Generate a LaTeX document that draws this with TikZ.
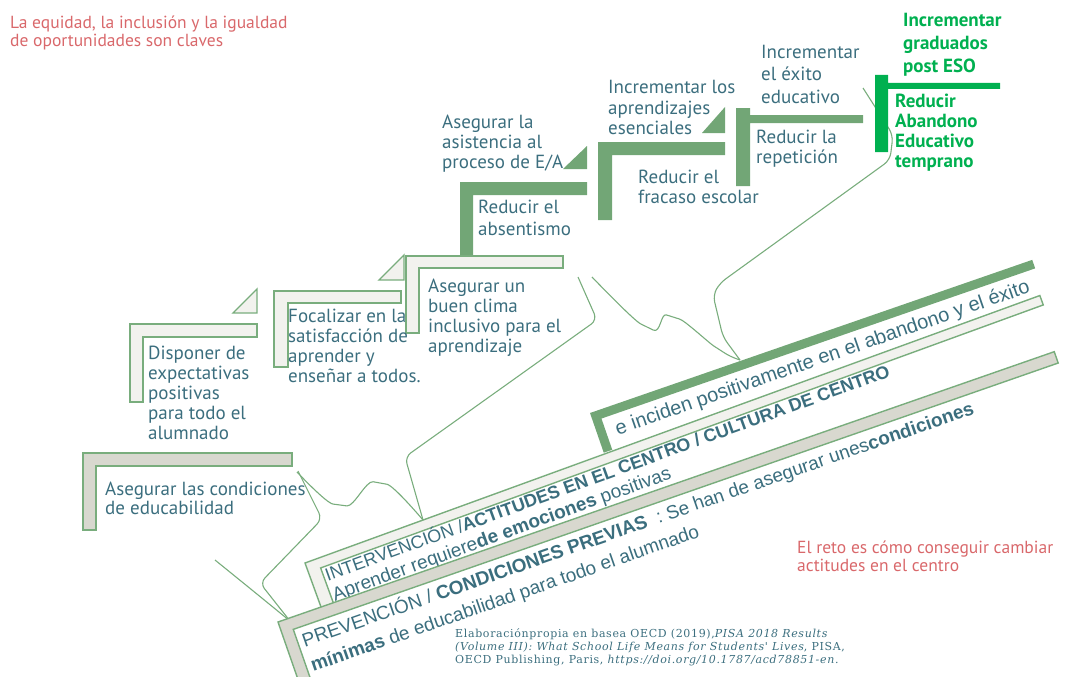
\documentclass[tikz,border=0pt]{standalone}
\usepackage{fontspec}
\setmainfont{PT Sans}
\newfontfamily\bandfont{Liberation Sans}
\newfontfamily\citefont[LetterSpace=6]{DejaVu Serif}
\usetikzlibrary{calc}

\definecolor{stepgreen}{HTML}{72A676}
\definecolor{edgegreen}{HTML}{79AD7D}
\definecolor{paleshade}{HTML}{F2F2EE}
\definecolor{greyshade}{HTML}{D8D8CF}
\definecolor{brightgreen}{HTML}{00B050}
\definecolor{tealtext}{HTML}{3B6E7E}
\definecolor{notered}{HTML}{D9686B}

\begin{document}
\begin{tikzpicture}[x=1pt, y=-1pt,
    every node/.style={inner sep=0pt, anchor=base west, align=left},
    steptext/.style={text=tealtext, font=\fontsize{19}{20}\selectfont},
    goaltext/.style={text=brightgreen, font=\bfseries\fontsize{19}{20}\selectfont},
    notetext/.style={text=notered, font=\fontsize{17.5}{18}\selectfont},
    bandtext/.style={text=tealtext, font=\bandfont\fontsize{18}{21}\selectfont, transform shape},
    citetext/.style={text=tealtext, font=\citefont\fontsize{11}{13}\selectfont},
    palestep/.style={fill=paleshade, draw=edgegreen, line width=1.4pt},
    greystep/.style={fill=greyshade, draw=edgegreen, line width=1.4pt},
    bracecurve/.style={draw=edgegreen, line width=1.1pt, rounded corners=7pt}]
    \useasboundingbox (0,0) rectangle (1069,677);

    % braces towards the bands
    \draw[bracecurve] (298,471) -- (322,519) -- (260,583) -- (290,621);
    \draw[bracecurve] (215,560) -- (252,590) -- (290,621);
    \draw[bracecurve] (578,277) -- (597,320) -- (405,457) -- (423,520);
    \draw[bracecurve] plot[smooth, tension=0.6] coordinates {(297,472) (340,505) (380,483) (423,520)};
    \draw[bracecurve] (863,88) -- (893,135) -- (890,160) -- (720,283) -- (713,295) -- (723,337) -- (740,360);
    \draw[bracecurve] plot[smooth, tension=0.6] coordinates {(592,277) (647,327) (673,317) (720,350) (740,360)};

    % staircase
    \draw[greystep] (83,453) -- (292,453) -- (292,466) -- (96,466) -- (96,530) -- (83,530) -- cycle;
    \draw[palestep] (130,324) -- (257,324) -- (257,337) -- (143,337) -- (143,402) -- (130,402) -- cycle;
    \draw[palestep] (233,313) -- (257,313) -- (257,289) -- cycle;
    \draw[palestep] (274,291) -- (401,291) -- (401,303) -- (288,303) -- (288,367) -- (274,367) -- cycle;
    \draw[palestep] (379,280) -- (404,280) -- (404,255) -- cycle;
    \fill[stepgreen] (460,182) -- (587,182) -- (587,195) -- (473,195) -- (473,256) -- (460,256) -- cycle;
    \draw[palestep] (406,256) -- (563,256) -- (563,268) -- (419,268) -- (419,333) -- (406,333) -- cycle;
    \fill[stepgreen] (563,169) -- (587,169) -- (587,146) -- cycle;
    \fill[stepgreen] (598,142) -- (725,142) -- (725,155) -- (612,155) -- (612,220) -- (598,220) -- cycle;
    \fill[stepgreen] (702,133) -- (725,133) -- (725,107) -- cycle;
    \fill[stepgreen] (736,108) -- (750,108) -- (750,115) -- (863,115) -- (863,123) -- (750,123) -- (750,186) -- (736,186) -- cycle;
    \fill[brightgreen] (875,75) -- (888,75) -- (888,83) -- (1000,83) -- (1000,89) -- (888,89) -- (888,152) -- (875,152) -- cycle;

    % tilted bands (nodes sit on their last baseline)
    \begin{scope}[shift={(305,563)}, rotate=20]
        \draw[palestep] (0,0) -- (782,0) -- (782,10) -- (13,10) -- (13,48) -- (0,48) -- cycle;
        \node[bandtext] (interv) at (15,46) {INTERVENCIÓN /\textbf{ACTITUDES EN EL CENTRO / CULTURA DE CENTRO}\\{\fontsize{19}{21}\selectfont Aprender requiere\textbf{de emociones} positivas}};
    \end{scope}
    \begin{scope}[shift={(278,622)}, rotate=19.2]
        \draw[greystep] (0,0) -- (822,0) -- (822,12) -- (12,12) -- (12,70) -- (0,70) -- cycle;
        \node[bandtext, font=\bandfont\fontsize{19}{26}\selectfont] (prev) at (17,58.5) {PREVENCIÓN / \textbf{CONDICIONES PREVIAS}\ \ : Se han de asegurar unes\textbf{condiciones}\\\textbf{mínimas} de educabilidad para todo el alumnado};
    \end{scope}
    \begin{scope}[shift={(590,413)}, rotate=19.1]
        \fill[stepgreen] (0,0) -- (468,0) -- (468,9) -- (9,9) -- (9,42) -- (0,42) -- cycle;
        \node[bandtext, font=\bandfont\fontsize{20}{21}\selectfont] (impact) at (19,30) {e inciden positivamente en el abandono y el éxito};
    \end{scope}

    % step labels (nodes sit on their last baseline)
    \node[steptext] (expect) at (148,439) {Disponer de\\expectativas\\positivas\\para todo el\\alumnado};
    \node[steptext] (focus) at (288,382) {Focalizar en la\\satisfacción de\\aprender y\\enseñar a todos.};
    \node[steptext] (climate) at (428,352) {Asegurar un\\buen clima\\inclusivo para el\\aprendizaje};
    \node[steptext] (attend) at (442,168) {Asegurar la\\asistencia al\\proceso de E/A};
    \node[steptext, font=\fontsize{19}{22}\selectfont] (absent) at (478,235) {Reducir el\\absentismo};
    \node[steptext] (learn) at (608,134) {Incrementar los\\aprendizajes\\esenciales};
    \node[steptext] (failure) at (638,203) {Reducir el\\fracaso escolar};
    \node[steptext, font=\fontsize{19}{22.5}\selectfont] (success) at (761,103) {Incrementar\\el éxito\\educativo};
    \node[steptext] (repeat) at (756,163) {Reducir la\\repetición};
    \node[steptext, font=\fontsize{19}{19}\selectfont] (educ) at (105,514) {Asegurar las condiciones\\de educabilidad};
    \node[goaltext, font=\bfseries\fontsize{19}{23}\selectfont] (grads) at (903,73) {Incrementar\\graduados\\post ESO};
    \node[goaltext] (dropout) at (895,167) {Reducir\\Abandono\\Educativo\\temprano};

    % notes
    \node[notetext] (keys) at (10,47) {La equidad, la inclusión y la igualdad\\de oportunidades son claves};
    \node[notetext] (challenge) at (797,571) {El reto es cómo conseguir cambiar\\actitudes en el centro};
    \node[citetext] (source) at (455,663) {Elaboraciónpropia en basea OECD (2019),\textit{PISA 2018 Results}\\\textit{(Volume III): What School Life Means for Students' Lives}, PISA,\\OECD Publishing, Paris, \textit{https://doi.org/10.1787/acd78851-en.}};
\end{tikzpicture}
\end{document}
